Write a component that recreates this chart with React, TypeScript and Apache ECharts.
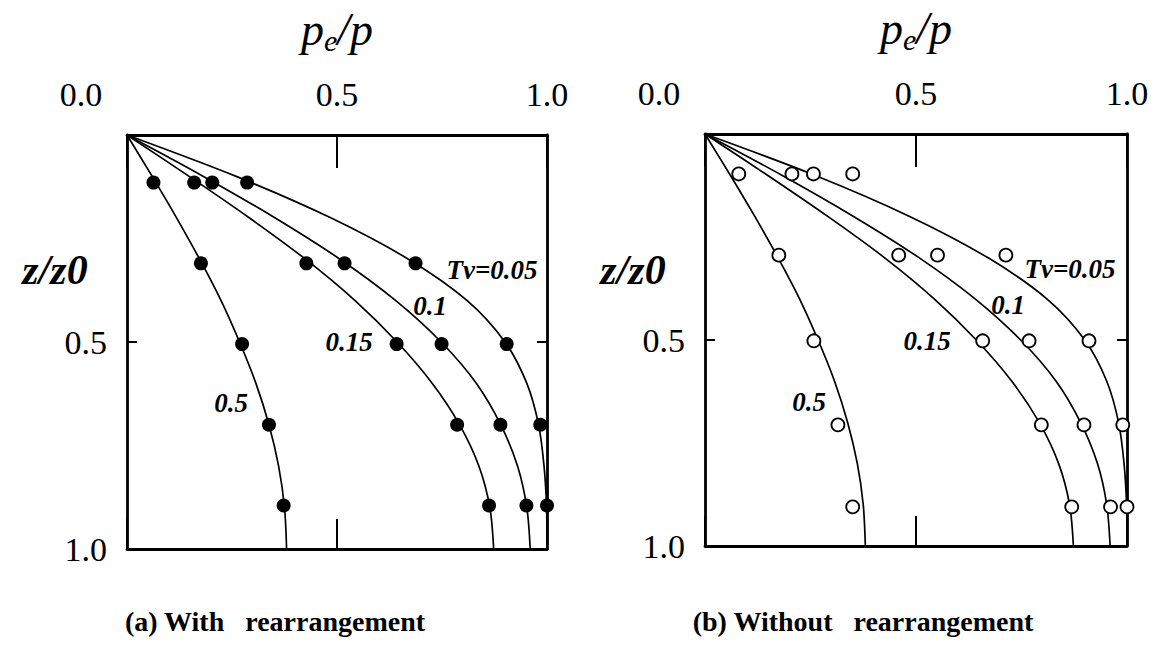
import { useEffect, useRef } from "react";
import * as echarts from "echarts";

// Depth ratio z/z0 at which each theoretical curve is sampled
const curveDepth = [0, 0.1, 0.2, 0.3, 0.4, 0.5, 0.6, 0.7, 0.8, 0.9, 1.0];

// Theoretical pe/p isochrones for each time factor Tv
const curveTv005 = [0, 0.26, 0.485, 0.67, 0.81, 0.9, 0.952, 0.98, 0.993, 0.999, 1.0];
const curveTv01 = [0, 0.182, 0.352, 0.507, 0.64, 0.748, 0.832, 0.89, 0.93, 0.952, 0.96];
const curveTv015 = [0, 0.148, 0.291, 0.425, 0.543, 0.643, 0.727, 0.792, 0.838, 0.864, 0.873];
const curveTv05 = [0, 0.06, 0.118, 0.173, 0.224, 0.268, 0.307, 0.338, 0.361, 0.375, 0.38];

// Measured points, panel (a): with rearrangement
const depthA = [0.115, 0.31, 0.505, 0.7, 0.895];
const measA005 = [0.286, 0.687, 0.904, 0.984, 1.0];
const measA01 = [0.203, 0.518, 0.749, 0.889, 0.951];
const measA015 = [0.16, 0.427, 0.642, 0.786, 0.862];
const measA05 = [0.063, 0.176, 0.274, 0.338, 0.373];

// Measured points, panel (b): without rearrangement
const depthB = [0.097, 0.294, 0.502, 0.706, 0.905];
const measB005 = [0.35, 0.713, 0.91, 0.99, 1.0];
const measB01 = [0.257, 0.551, 0.768, 0.898, 0.961];
const measB015 = [0.206, 0.459, 0.658, 0.797, 0.869];
const measB05 = [0.08, 0.175, 0.258, 0.315, 0.35];

const curveLabels = ["Tv=0.05", "0.1", "0.15", "0.5"];
const panelTitles = ["(a) With   rearrangement", "(b) Without   rearrangement"];
const axisTicks = [0, 0.5, 1.0];

const SERIF = "Liberation Serif";

const pair = (xs: number[], zs: number[]) => xs.map((x, i) => [x, zs[i]]);

export default function App() {
  const ref = useRef<HTMLDivElement>(null);

  useEffect(() => {
    if (!ref.current) return;
    const chart = echarts.init(ref.current, null, { renderer: "svg" });

    const grids = [
      { left: 127, top: 135, width: 420, height: 414 },
      { left: 705, top: 134, width: 422, height: 412 },
    ];

    const axisLine = { show: true, onZero: false, lineStyle: { color: "#000", width: 2.8 } };
    const tickStyle = { color: "#000", width: 2 };
    const tMin = axisTicks[0];
    const tMax = axisTicks[axisTicks.length - 1];
    const tInt = axisTicks[1] - axisTicks[0];

    const xAxes: any[] = [];
    const yAxes: any[] = [];
    grids.forEach((_, g) => {
      xAxes.push({
        gridIndex: g,
        type: "value",
        position: "top",
        min: tMin,
        max: tMax,
        interval: tInt,
        axisLine,
        axisTick: { show: true, inside: true, length: 33, lineStyle: tickStyle },
        splitLine: { show: false },
        axisLabel: {
          color: "#000",
          fontFamily: SERIF,
          fontSize: 34,
          margin: 24,
          formatter: (v: number) => (v === 0 ? "{c|0.0}" : v.toFixed(1)),
          rich: {
            c: { fontFamily: SERIF, fontSize: 34, color: "#000", padding: [0, 92, 0, 0] },
          },
        },
        name: "{p|p}{s|e}{p|/p}",
        nameLocation: "middle",
        nameGap: 80,
        nameTextStyle: {
          rich: {
            p: { fontFamily: SERIF, fontStyle: "italic", fontSize: 46, color: "#000" },
            s: {
              fontFamily: SERIF,
              fontStyle: "italic",
              fontSize: 30,
              color: "#000",
              verticalAlign: "bottom",
              padding: [22, 0, 0, 0],
            },
          },
        },
      });
      xAxes.push({
        gridIndex: g,
        type: "value",
        position: "bottom",
        min: tMin,
        max: tMax,
        interval: tInt,
        axisLine,
        axisTick: { show: true, inside: true, length: 30, lineStyle: tickStyle },
        splitLine: { show: false },
        axisLabel: { show: false },
      });
      yAxes.push({
        gridIndex: g,
        type: "value",
        position: "left",
        inverse: true,
        min: tMin,
        max: tMax,
        interval: tInt,
        axisLine,
        axisTick: { show: true, inside: true, length: 10, lineStyle: tickStyle },
        splitLine: { show: false },
        axisLabel: {
          color: "#000",
          fontFamily: SERIF,
          fontSize: 34,
          margin: 20,
          showMinLabel: false,
          formatter: (v: number) => v.toFixed(1),
        },
      });
      yAxes.push({
        gridIndex: g,
        type: "value",
        position: "right",
        inverse: true,
        min: tMin,
        max: tMax,
        interval: tInt,
        axisLine,
        axisTick: { show: true, inside: true, length: 10, lineStyle: tickStyle },
        splitLine: { show: false },
        axisLabel: { show: false },
      });
    });

    const curves = [curveTv005, curveTv01, curveTv015, curveTv05];
    const measSets = [
      { depth: depthA, sets: [measA005, measA01, measA015, measA05], open: false },
      { depth: depthB, sets: [measB005, measB01, measB015, measB05], open: true },
    ];

    const series: any[] = [];
    measSets.forEach((panel, g) => {
      curves.forEach((c, k) => {
        series.push({
          type: "line",
          name: `curve-${g}-${k}`,
          xAxisIndex: g * 2,
          yAxisIndex: g * 2,
          data: pair(c, curveDepth),
          smooth: 0.3,
          showSymbol: false,
          symbol: "none",
          lineStyle: { color: "#000", width: 1.7 },
          z: 2,
        });
      });
      panel.sets.forEach((m, k) => {
        series.push({
          type: "scatter",
          name: `meas-${g}-${k}`,
          xAxisIndex: g * 2,
          yAxisIndex: g * 2,
          data: pair(m, panel.depth),
          symbol: "circle",
          symbolSize: panel.open ? 13 : 14,
          itemStyle: panel.open
            ? { color: "#fff", borderColor: "#000", borderWidth: 1.8, opacity: 1 }
            : { color: "#000", opacity: 1 },
          z: 3,
        });
      });
    });

    const labelStyle = (fontSize: number) => ({
      fontFamily: SERIF,
      fontWeight: "bold",
      fontStyle: "italic",
      fontSize,
      fill: "#000",
      align: "center",
      verticalAlign: "middle",
    });

    // Curve label positions in each panel, relative to the panel's plot box
    const labelOffsets = [
      [365, 135],
      [303, 171],
      [222, 207],
      [104, 268],
    ];

    const graphic: any[] = [];
    grids.forEach((gr, g) => {
      graphic.push({
        type: "text",
        x: gr.left - 72,
        y: 270,
        style: { ...labelStyle(42), text: "z/z0" },
      });
      curveLabels.forEach((t, k) => {
        graphic.push({
          type: "text",
          x: gr.left + labelOffsets[k][0],
          y: gr.top + labelOffsets[k][1],
          style: { ...labelStyle(27), text: t },
        });
      });
      graphic.push({
        type: "text",
        x: gr.left + (g === 0 ? 148 : 158),
        y: 621,
        style: {
          text: panelTitles[g],
          fontFamily: SERIF,
          fontWeight: "bold",
          fontSize: 28,
          fill: "#000",
          align: "center",
          verticalAlign: "middle",
        },
      });
    });

    chart.setOption({
      animation: false,
      backgroundColor: "#fff",
      grid: grids,
      xAxis: xAxes,
      yAxis: yAxes,
      series,
      graphic,
    });

    return () => chart.dispose();
  }, []);

  return (
    <div
      ref={ref}
      style={{ position: "fixed", left: 0, top: 0, width: 1159, height: 648 }}
    />
  );
}
